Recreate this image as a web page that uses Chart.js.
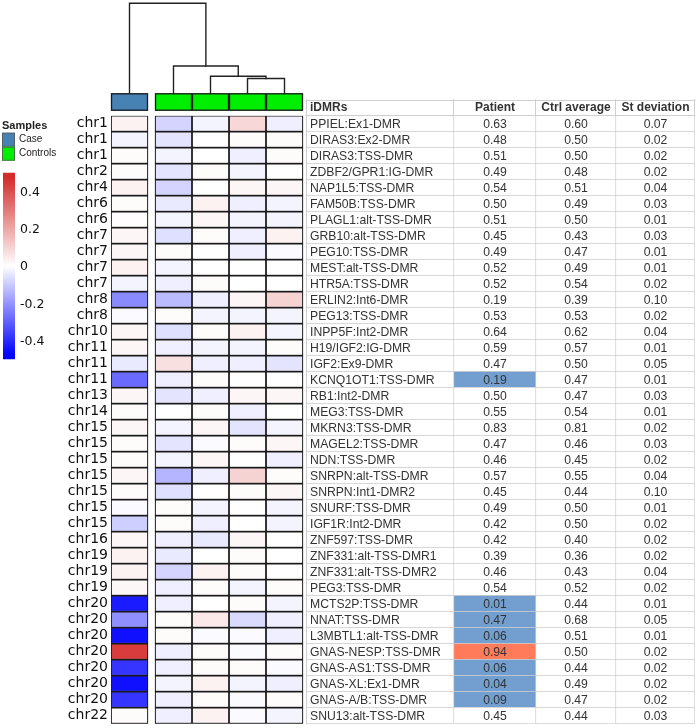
<!DOCTYPE html>
<html><head><meta charset="utf-8">
<script src="https://cdn.jsdelivr.net/npm/chart.js@4.4.1/dist/chart.umd.min.js"></script>
<style>html,body{margin:0;padding:0;background:#fff;}#wrap{position:relative;width:699px;height:728px;}</style>
</head><body><div id="wrap"><canvas id="c"></canvas></div>
<script>
// ---------- data ----------
const chromosomes = ['chr1','chr1','chr1','chr2','chr4','chr6','chr6','chr7','chr7','chr7','chr7','chr8','chr8','chr10','chr11','chr11','chr11','chr13','chr14','chr15','chr15','chr15','chr15','chr15','chr15','chr15','chr16','chr19','chr19','chr19','chr20','chr20','chr20','chr20','chr20','chr20','chr20','chr22'];
const dmrNames = ['PPIEL:Ex1-DMR','DIRAS3:Ex2-DMR','DIRAS3:TSS-DMR','ZDBF2/GPR1:IG-DMR','NAP1L5:TSS-DMR','FAM50B:TSS-DMR','PLAGL1:alt-TSS-DMR','GRB10:alt-TSS-DMR','PEG10:TSS-DMR','MEST:alt-TSS-DMR','HTR5A:TSS-DMR','ERLIN2:Int6-DMR','PEG13:TSS-DMR','INPP5F:Int2-DMR','H19/IGF2:IG-DMR','IGF2:Ex9-DMR','KCNQ1OT1:TSS-DMR','RB1:Int2-DMR','MEG3:TSS-DMR','MKRN3:TSS-DMR','MAGEL2:TSS-DMR','NDN:TSS-DMR','SNRPN:alt-TSS-DMR','SNRPN:Int1-DMR2','SNURF:TSS-DMR','IGF1R:Int2-DMR','ZNF597:TSS-DMR','ZNF331:alt-TSS-DMR1','ZNF331:alt-TSS-DMR2','PEG3:TSS-DMR','MCTS2P:TSS-DMR','NNAT:TSS-DMR','L3MBTL1:alt-TSS-DMR','GNAS-NESP:TSS-DMR','GNAS-AS1:TSS-DMR','GNAS-XL:Ex1-DMR','GNAS-A/B:TSS-DMR','SNU13:alt-TSS-DMR'];
const patientValues = ['0.63','0.48','0.51','0.49','0.54','0.50','0.51','0.45','0.49','0.52','0.52','0.19','0.53','0.64','0.59','0.47','0.19','0.50','0.55','0.83','0.47','0.46','0.57','0.45','0.49','0.42','0.42','0.39','0.46','0.54','0.01','0.47','0.06','0.94','0.06','0.04','0.09','0.45'];
const ctrlAverage = ['0.60','0.50','0.50','0.48','0.51','0.49','0.50','0.43','0.47','0.49','0.54','0.39','0.53','0.62','0.57','0.50','0.47','0.47','0.54','0.81','0.46','0.45','0.55','0.44','0.50','0.50','0.40','0.36','0.43','0.52','0.44','0.68','0.51','0.50','0.44','0.49','0.47','0.44'];
const stDeviation = ['0.07','0.02','0.02','0.02','0.04','0.03','0.01','0.03','0.01','0.01','0.02','0.10','0.02','0.04','0.01','0.05','0.01','0.03','0.01','0.02','0.03','0.02','0.04','0.10','0.01','0.02','0.02','0.02','0.04','0.02','0.01','0.05','0.01','0.02','0.02','0.02','0.02','0.03'];
const patientFlag = ['','','','','','','','','','','','','','','','','low','','','','','','','','','','','','','','low','low','low','high','low','low','low',''];
const tableHeaders = ['iDMRs','Patient','Ctrl average','St deviation'];

const caseSample = [0.03,-0.02,0.01,0.01,0.03,0.01,0.005,0.02,0.02,0.03,-0.02,-0.22,-0.01,0.02,0.02,-0.04,-0.28,0.02,0.01,0.02,0.01,0.01,0.02,0.01,-0.01,-0.09,0.02,0.03,0.03,0.02,-0.43,-0.21,-0.45,0.44,-0.38,-0.45,-0.38,0.01];
const control1 = [-0.08,-0.05,-0.02,-0.05,-0.08,-0.04,-0.02,-0.06,0.01,-0.02,-0.03,-0.13,0.01,-0.06,-0.03,0.07,-0.03,-0.05,0,-0.02,-0.05,-0.02,-0.14,-0.06,0.01,0.01,-0.03,-0.04,-0.08,-0.03,-0.03,0.01,0.01,-0.03,-0.03,-0.02,-0.03,-0.03];
const control2 = [-0.02,0,0,0.01,0,0.03,0.02,0.01,0,0,0.01,-0.03,-0.02,0.01,-0.02,-0.03,0.01,-0.03,0.01,0.02,-0.01,0.02,-0.03,0,-0.02,-0.03,-0.04,0,0.03,0.01,0,0.05,-0.01,0.01,0.01,0.03,0.01,0.03];
const control3 = [0.09,0.01,-0.03,-0.02,0.02,-0.03,-0.02,-0.03,-0.03,0,0,0.02,-0.02,0.03,-0.02,-0.03,0,0.02,-0.03,-0.05,0.01,0,0.10,0.01,0,0,0.02,0.01,0.01,-0.02,0.01,-0.07,-0.01,-0.01,0.01,-0.02,-0.01,-0.01];
const control4 = [-0.03,0.01,0.01,0,0.02,-0.02,-0.02,0.03,-0.01,0,0,0.10,-0.02,-0.02,0.01,-0.05,0,0.02,0,-0.02,0.02,-0.03,0.01,0.02,-0.02,-0.02,0,0,0,0.01,-0.02,-0.03,-0.03,0.01,-0.01,-0.03,0.01,-0.02];
const sampleGroups = ['Case','Controls','Controls','Controls','Controls'];
const colorbarTicks = [0.4,0.2,0,-0.2,-0.4];
// dendrogram merge heights (relative): [c3+c4, c2+(c34), c1+(c234), case+(controls)]
const mergeHeights = [0.164,0.19,0.304,1.0];

// ---------- layout / style ----------
const heatSpans = [[0,37],[44,81],[81,118],[118,155],[155,192]];
const tableSpans = [[195,343],[343,425],[425,505],[505,584]];
const groupColors = {Case:'#4682b4', Controls:'#00ee00'};
const flagColors = {low:'#729fcf', high:'#ff7b59', '':'#ffffff'};
const HEAT_MAX = 0.48;
function heatColor(v){
  const t = Math.min(1, Math.abs(v)/HEAT_MAX);
  if (v < 0){ const c = Math.round(255*(1-t)); return `rgb(${c},${c},255)`; }
  const r = Math.round(255 - t*(255-212)), g = Math.round(255 - t*(255-42));
  return `rgb(${r},${g},${g})`;
}
const heatColumns = [caseSample, control1, control2, control3, control4];

const heatDatasets = heatColumns.map((vals, j) => ({
  label: 'sample'+j,
  data: vals.map(() => heatSpans[j]),
  backgroundColor: vals.map(heatColor),
  borderColor: '#1a1a1a',
  borderWidth: 1.2,
  borderSkipped: false,
  grouped: false,
  barPercentage: 1,
  categoryPercentage: 1,
  order: 1
}));
const tableDatasets = tableSpans.map((span, k) => ({
  label: 'table'+k,
  data: dmrNames.map(() => span),
  backgroundColor: k === 1 ? patientFlag.map(f => flagColors[f]) : '#ffffff',
  borderColor: '#cfcfcf',
  borderWidth: {top:0, left:0, right:1, bottom:1},
  borderSkipped: false,
  grouped: false,
  barPercentage: 1,
  categoryPercentage: 1,
  order: 2
}));
const tableColumns = [dmrNames, patientValues, ctrlAverage, stDeviation];

const overlay = {
  id: 'overlay',
  afterDraw(chart){
    const {ctx, chartArea: a, scales: {x, y}} = chart;
    const rowH = y.getPixelForValue(1) - y.getPixelForValue(0);
    ctx.save();
    // ---- annotation bar ----
    const annTop = 93.3, annBot = a.top - 5;
    const cx = heatSpans.map(s => x.getPixelForValue((s[0]+s[1])/2));
    heatSpans.forEach((s, j) => {
      const x0 = x.getPixelForValue(s[0]), x1 = x.getPixelForValue(s[1]);
      ctx.fillStyle = groupColors[sampleGroups[j]];
      ctx.fillRect(x0, annTop, x1-x0, annBot-annTop);
      ctx.strokeStyle = '#1a1a1a'; ctx.lineWidth = 1.3;
      ctx.strokeRect(x0+0.5, annTop+0.5, x1-x0-1, annBot-annTop-1);
    });
    // ---- dendrogram ----
    const dTop = 3.3;
    const hy = h => annTop - h*(annTop - dTop);
    const [y34, y234, y1234, yRoot] = mergeHeights.map(hy);
    const n34 = (cx[3]+cx[4])/2, n234 = (cx[2]+n34)/2, n1234 = (cx[1]+n234)/2;
    ctx.strokeStyle = '#222'; ctx.lineWidth = 1.4; ctx.lineCap = 'square';
    const link = (xa, ya, xb, yb, h) => {
      ctx.beginPath(); ctx.moveTo(xa, ya); ctx.lineTo(xa, h); ctx.lineTo(xb, h); ctx.lineTo(xb, yb); ctx.stroke();
    };
    link(cx[3], annTop, cx[4], annTop, y34);
    link(cx[2], annTop, n34, y34, y234);
    link(cx[1], annTop, n234, y234, y1234);
    link(cx[0], annTop, n1234, y1234, yRoot);
    // ---- sample legend ----
    ctx.fillStyle = '#222';
    ctx.font = 'bold 11px "Liberation Sans", Arial, sans-serif';
    ctx.textBaseline = 'middle'; ctx.textAlign = 'left';
    ctx.fillText('Samples', 2, 125.5);
    const sw = [['Case', 132.7], ['Controls', 146.7]];
    sw.forEach(([g, yy]) => {
      ctx.fillStyle = groupColors[g]; ctx.fillRect(2, yy, 13, 14);
      ctx.strokeStyle = '#555'; ctx.lineWidth = 0.8; ctx.strokeRect(2.5, yy+0.5, 12, 13);
      ctx.fillStyle = '#222'; ctx.font = '10px "Liberation Sans", Arial, sans-serif';
      ctx.fillText(g, 19, yy+7);
    });
    // ---- color bar ----
    const cbY = v => 266 - v*186.5;
    const gTop = cbY(0.5), gBot = cbY(-0.5);
    const grad = ctx.createLinearGradient(0, gTop, 0, gBot);
    for (let i = 0; i <= 40; i++){ const v = 0.5 - i/40; grad.addColorStop(i/40, heatColor(v)); }
    ctx.fillStyle = grad; ctx.fillRect(3, gTop, 12, gBot-gTop);
    ctx.fillStyle = '#111'; ctx.font = '12.5px "DejaVu Sans", sans-serif';
    colorbarTicks.forEach(v => ctx.fillText(String(v), 20, cbY(v)+1));
    // ---- table frame & header ----
    const tL = x.getPixelForValue(tableSpans[0][0]), tR = x.getPixelForValue(tableSpans[3][1]);
    const hTop = a.top - rowH;
    ctx.strokeStyle = '#cfcfcf'; ctx.lineWidth = 1;
    ctx.beginPath();
    ctx.moveTo(tL, Math.round(hTop)+0.5); ctx.lineTo(tR, Math.round(hTop)+0.5);
    ctx.moveTo(tL, Math.round(a.top)-0.5); ctx.lineTo(tR, Math.round(a.top)-0.5);
    ctx.moveTo(Math.round(tL)+0.5, hTop); ctx.lineTo(Math.round(tL)+0.5, a.bottom);
    tableSpans.forEach(s => { const xx = Math.round(x.getPixelForValue(s[1]))-0.5; ctx.moveTo(xx, hTop); ctx.lineTo(xx, a.top); });
    ctx.stroke();
    ctx.fillStyle = '#333';
    ctx.font = 'bold 12px "Liberation Sans", Arial, sans-serif';
    tableHeaders.forEach((h, k) => {
      const s = tableSpans[k];
      const x0 = x.getPixelForValue(s[0]), x1 = x.getPixelForValue(s[1]);
      if (k === 0){ ctx.textAlign = 'left'; ctx.fillText(h, x0+4, hTop + rowH/2); }
      else { ctx.textAlign = 'center'; ctx.fillText(h, (x0+x1)/2, hTop + rowH/2); }
    });
    // ---- table body text ----
    ctx.font = '12.2px "Liberation Sans", Arial, sans-serif';
    tableColumns.forEach((col, k) => {
      const s = tableSpans[k];
      const x0 = x.getPixelForValue(s[0]), x1 = x.getPixelForValue(s[1]);
      col.forEach((t, i) => {
        const yy = y.getPixelForValue(i) + 0.5;
        if (k === 0){ ctx.textAlign = 'left'; ctx.fillText(t, x0+4, yy); }
        else { ctx.textAlign = 'center'; ctx.fillText(t, (x0+x1)/2, yy); }
      });
    });
    ctx.restore();
  }
};

new Chart(document.getElementById('c'), {
  type: 'bar',
  data: { labels: chromosomes, datasets: [...tableDatasets, ...heatDatasets] },
  options: {
    indexAxis: 'y',
    responsive: true,
    maintainAspectRatio: false,
    animation: false,
    events: [],
    layout: { padding: { left: 0, top: 115.7, right: 4, bottom: 4.3 } },
    plugins: { legend: { display: false }, tooltip: { enabled: false } },
    scales: {
      x: { type: 'linear', min: 0, max: 584, display: false },
      y: {
        type: 'category',
        offset: true,
        grid: { display: false, drawTicks: false },
        border: { display: false },
        afterFit: s => { s.width = 111; s.paddingTop = 0; s.paddingBottom = 0; },
        ticks: { autoSkip: false, padding: 3, color: '#111', font: { family: 'DejaVu Sans', size: 14 } }
      }
    }
  },
  plugins: [overlay]
});
</script>
</body></html>
